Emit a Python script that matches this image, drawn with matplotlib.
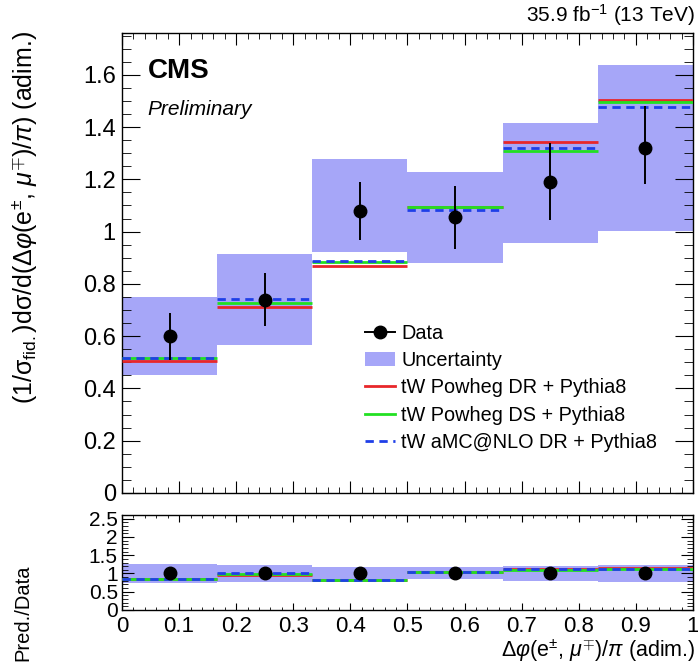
import numpy as np
import matplotlib
matplotlib.use("Agg")
import matplotlib.pyplot as plt
from matplotlib.ticker import MultipleLocator, FuncFormatter
from matplotlib.lines import Line2D
from matplotlib.patches import Patch

plt.rcParams['font.family'] = ['Liberation Sans', 'DejaVu Sans']
plt.rcParams['mathtext.fontset'] = 'custom'
plt.rcParams['mathtext.rm'] = 'Liberation Sans'
plt.rcParams['mathtext.it'] = 'Liberation Sans:italic'
plt.rcParams['mathtext.bf'] = 'Liberation Sans:bold'

# ---- data ----
bin_edges = [0, 1/6, 2/6, 3/6, 4/6, 5/6, 1.0]
data = [0.601, 0.739, 1.077, 1.054, 1.188, 1.321]
data_err_lo = [0.092, 0.100, 0.111, 0.121, 0.143, 0.138]
data_err_hi = [0.087, 0.102, 0.112, 0.121, 0.150, 0.160]
unc_lo = [0.452, 0.567, 0.922, 0.881, 0.958, 1.003]
unc_hi = [0.750, 0.915, 1.278, 1.229, 1.417, 1.638]
powheg_dr = [0.506, 0.712, 0.870, 1.093, 1.341, 1.504]
powheg_ds = [0.517, 0.727, 0.883, 1.096, 1.308, 1.494]
amcnlo_dr = [0.518, 0.744, 0.888, 1.082, 1.318, 1.476]

labels = ["Data", "Uncertainty", "tW Powheg DR + Pythia8",
          "tW Powheg DS + Pythia8", "tW aMC@NLO DR + Pythia8"]

edges = np.array(bin_edges)
centers = 0.5 * (edges[:-1] + edges[1:])
widths = np.diff(edges)
d = np.array(data)
elo = np.array(data_err_lo)
ehi = np.array(data_err_hi)
ulo = np.array(unc_lo)
uhi = np.array(unc_hi)

c_unc = '#a6a6f8'
c_red = '#e8272a'
c_green = '#22e022'
c_blue = '#1f3fe8'
dash = (0, (3, 2))

fig = plt.figure(figsize=(6.98, 6.66), dpi=100)
ax = fig.add_axes([0.1748, 0.2598, 0.818, 0.6907])
axr = fig.add_axes([0.1748, 0.0841, 0.818, 0.1426])

fmt = FuncFormatter(lambda v, p: ('%g' % round(v, 3)))

def hist_lines(a, vals, **kw):
    a.hlines(vals, edges[:-1], edges[1:], **kw)

# top panel
ax.bar(centers, uhi - ulo, bottom=ulo, width=widths, color=c_unc, lw=0, zorder=1)
hist_lines(ax, np.array(powheg_dr), color=c_red, lw=2, zorder=3)
hist_lines(ax, np.array(powheg_ds), color=c_green, lw=2, zorder=3)
hist_lines(ax, np.array(amcnlo_dr), color=c_blue, lw=2, linestyles=[dash], zorder=4)
ax.errorbar(centers, d, yerr=[elo, ehi], fmt='o', color='black', ms=9,
            elinewidth=1.4, capsize=0, zorder=5)

ax.set_xlim(0, 1)
ax.set_ylim(0, 1.76)
ax.xaxis.set_major_locator(MultipleLocator(0.1))
ax.xaxis.set_minor_locator(MultipleLocator(0.02))
ax.yaxis.set_major_locator(MultipleLocator(0.2))
ax.yaxis.set_minor_locator(MultipleLocator(0.05))
ax.set_xticklabels([])
ax.tick_params(axis='both', which='both', direction='in', top=True, right=True, labelsize=17)
ax.tick_params(axis='y', which='major', length=13, pad=4.5)
ax.tick_params(axis='y', which='minor', length=6.5)
ax.tick_params(axis='x', which='major', length=8.5)
ax.tick_params(axis='x', which='minor', length=4.3)
ax.yaxis.set_major_formatter(fmt)
ax.set_ylabel(r'(1/$\mathregular{\sigma_{fid.}}$)d$\mathregular{\sigma}$/d($\mathregular{\Delta}\varphi$(e$^{\pm}$, $\mu^{\mp}$)/$\pi$) (adim.)',
              fontsize=18, loc='top')
ax.yaxis.set_label_coords(-0.146, 1.005)

ax.text(0.045, 0.945, 'CMS', transform=ax.transAxes, fontsize=20, fontweight='bold', va='top')
ax.text(0.045, 0.855, 'Preliminary', transform=ax.transAxes, fontsize=15, style='italic', va='top')
fig.text(0.995, 0.978, r'35.9 fb$^{\mathregular{-1}}$ (13 TeV)', ha='right', va='center', fontsize=15)

handles = [Line2D([], [], color='black', marker='o', ms=9, lw=1.4),
           Patch(facecolor=c_unc, edgecolor='none'),
           Line2D([], [], color=c_red, lw=2),
           Line2D([], [], color=c_green, lw=2),
           Line2D([], [], color=c_blue, lw=2, ls=dash)]
ax.legend(handles, labels, loc='upper left', bbox_to_anchor=(0.425, 0.368),
          frameon=False, fontsize=14.3, handlelength=1.55, handletextpad=0.3,
          labelspacing=0.42, borderaxespad=0, borderpad=0)

# ratio panel
axr.bar(centers, (uhi - ulo) / d, bottom=ulo / d, width=widths, color=c_unc, lw=0, zorder=1)
hist_lines(axr, np.array(powheg_dr) / d, color=c_red, lw=2, zorder=3)
hist_lines(axr, np.array(powheg_ds) / d, color=c_green, lw=2, zorder=3)
hist_lines(axr, np.array(amcnlo_dr) / d, color=c_blue, lw=2, linestyles=[dash], zorder=4)
axr.errorbar(centers, d / d, yerr=[elo / d, ehi / d], fmt='o', color='black', ms=9,
             elinewidth=1.4, capsize=0, zorder=5)
axr.set_xlim(0, 1)
axr.set_ylim(0, 2.6)
axr.xaxis.set_major_locator(MultipleLocator(0.1))
axr.xaxis.set_minor_locator(MultipleLocator(0.02))
axr.yaxis.set_major_locator(MultipleLocator(0.5))
axr.yaxis.set_minor_locator(MultipleLocator(0.1))
axr.tick_params(axis='both', which='both', direction='in', top=True, right=True, labelsize=16)
axr.tick_params(axis='y', which='major', length=8.5, pad=3, labelsize=15)
axr.tick_params(axis='y', which='minor', length=4)
axr.tick_params(axis='x', which='major', length=5, pad=4)
axr.tick_params(axis='x', which='minor', length=2.5)
axr.xaxis.set_major_formatter(fmt)
axr.yaxis.set_major_formatter(fmt)
axr.set_ylabel('Pred./Data', fontsize=14.5)
axr.yaxis.set_label_coords(-0.157, -0.03)
fig.text(0.996, 0.003, r'$\mathregular{\Delta}\varphi$(e$^{\pm}$, $\mu^{\mp}$)/$\pi$ (adim.)',
         fontsize=15.5, ha='right', va='bottom')

for a in (ax, axr):
    for s in a.spines.values():
        s.set_linewidth(1.0)

fig.savefig('out.png', dpi=100)
